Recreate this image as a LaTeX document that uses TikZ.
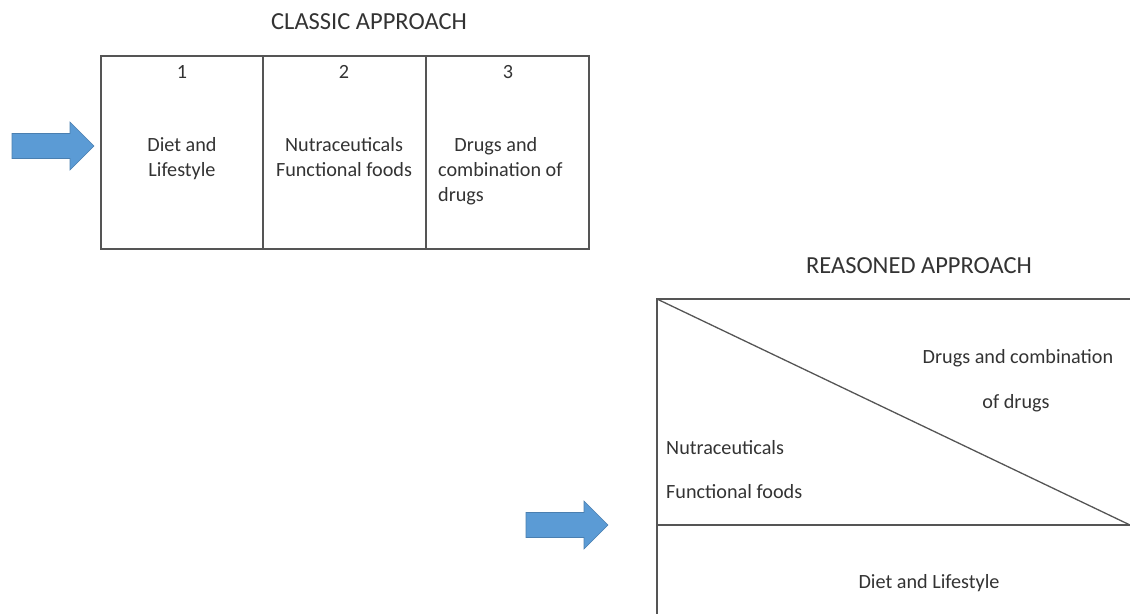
\documentclass[tikz,border=0pt]{standalone}
\usepackage{fontspec}
\setmainfont{Carlito}
\usepackage{xcolor}

\definecolor{arrowblue}{HTML}{5B9BD5}
\definecolor{arrowedge}{HTML}{4A7FB0}
\definecolor{boxgray}{HTML}{555555}
\definecolor{textgray}{HTML}{333333}

\tikzset{
  box/.style={draw=boxgray, line width=1.3pt},
  title/.style={font=\fontsize{24.5}{28}\selectfont, text=textgray, inner sep=0pt},
  body/.style={font=\fontsize{20.2}{25}\selectfont, text=textgray, inner sep=0pt},
}

\begin{document}
\begin{tikzpicture}[x=1pt, y=-1pt]
	\useasboundingbox (0,0) rectangle (1130,614);
	% blue arrows
	\foreach \x/\y/\n in {12/146/one, 526/525/two} {
		\fill[arrowblue, draw=arrowedge, line width=0.6pt] (\x,\y-12.5) -- ++(58,0) -- ++(0,-11.5) -- ++(24,24) -- ++(-24,24) -- ++(0,-11.5) -- ++(-58,0) -- cycle;
		\coordinate (arrow\n) at (\x+82,\y);
	}
	% classic approach
	\node[title] (classic) at (369,22) {CLASSIC APPROACH};
	\draw[box] (101,56) rectangle (589,249);
	\draw[box] (263,56) -- (263,249);
	\draw[box] (426,56) -- (426,249);
	\node[body] (n1) at (182,72) {1};
	\node[body] (n2) at (344,72) {2};
	\node[body] (n3) at (508,72) {3};
	\node[body, align=center, anchor=north] (diet) at (182,137) {Diet and\\Lifestyle};
	\node[body, align=center, anchor=north] (nutra) at (344,137) {Nutraceuticals\\Functional foods};
	\node[body, align=left, anchor=north west] (drugs) at (438,137) {\hspace{0.8em}Drugs and\\combination of\\drugs};
	% reasoned approach
	\node[title] (reasoned) at (919,266) {REASONED APPROACH};
	\draw[box] (1130,299) -- (657,299) -- (657,614);
	\draw[box] (657,525) -- (1130,525);
	\draw[box] (657,299) -- (1130,525);
	\node[body] (rdrugs) at (1018,358) {Drugs and combination};
	\node[body] (rof) at (1016,403) {of drugs};
	\node[body, anchor=west] (rnutra) at (666,448) {Nutraceuticals};
	\node[body, anchor=west] (rfood) at (666,492) {Functional foods};
	\node[body] (rdiet) at (929,583) {Diet and Lifestyle};
\end{tikzpicture}
\end{document}
